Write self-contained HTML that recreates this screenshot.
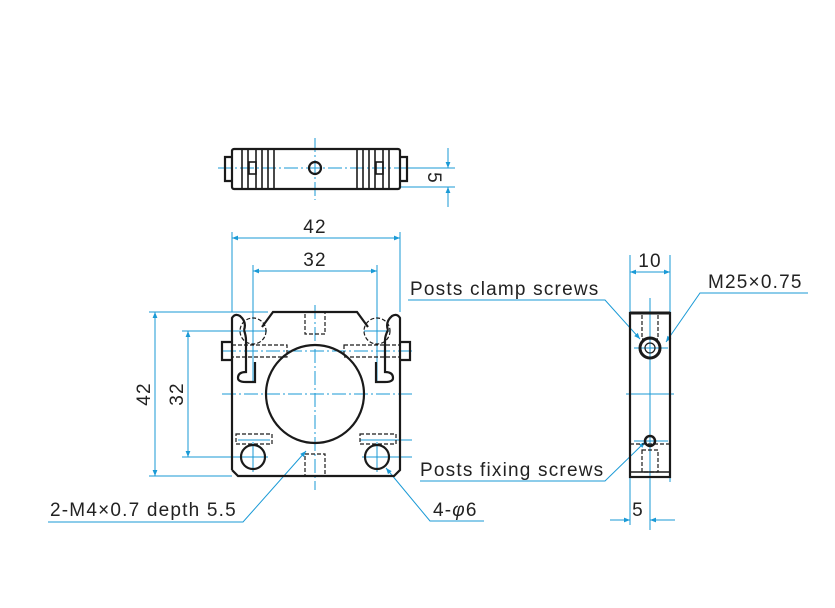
<!DOCTYPE html>
<html><head><meta charset="utf-8"><style>
html,body{margin:0;padding:0;background:#fff;}
svg{display:block;}
text{font-family:"Liberation Sans",sans-serif;fill:#222;letter-spacing:1.2px;}
</style></head><body>
<svg width="835" height="608" viewBox="0 0 835 608" xmlns="http://www.w3.org/2000/svg">
<defs>
<marker id="a" viewBox="0 0 10 10" refX="10" refY="5" markerWidth="10" markerHeight="6" orient="auto-start-reverse" markerUnits="userSpaceOnUse"><path d="M0,1 L10,5 L0,9 z" fill="#1a9ad6"/></marker>
</defs>
<g stroke="#1a9ad6" stroke-width="1" fill="none">
<line x1="315" y1="138" x2="315" y2="200" stroke-dasharray="14,3,2,3"/>
<line x1="218" y1="168" x2="412" y2="168" stroke-dasharray="14,3,2,3"/>
<line x1="400" y1="168" x2="455" y2="168"/>
<line x1="400" y1="187" x2="455" y2="187"/>
<line x1="448" y1="148" x2="448" y2="168" marker-end="url(#a)"/>
<line x1="448" y1="207" x2="448" y2="187" marker-end="url(#a)"/>
<line x1="232" y1="232" x2="232" y2="312"/><line x1="400" y1="232" x2="400" y2="312"/>
<line x1="232" y1="238" x2="400" y2="238" marker-start="url(#a)" marker-end="url(#a)"/>
<line x1="253" y1="265" x2="253" y2="345"/><line x1="377" y1="265" x2="377" y2="345"/>
<line x1="253" y1="271" x2="377" y2="271" marker-start="url(#a)" marker-end="url(#a)"/>
<line x1="149" y1="312" x2="268" y2="312"/><line x1="149" y1="476" x2="232" y2="476"/>
<line x1="155" y1="312" x2="155" y2="476" marker-start="url(#a)" marker-end="url(#a)"/>
<line x1="182" y1="331" x2="267" y2="331"/><line x1="182" y1="457" x2="265" y2="457"/>
<line x1="188" y1="331" x2="188" y2="457" marker-start="url(#a)" marker-end="url(#a)"/>
<line x1="315" y1="305" x2="315" y2="490" stroke-dasharray="14,3,2,3"/>
<line x1="222" y1="394" x2="412" y2="394" stroke-dasharray="14,3,2,3"/>
<line x1="222" y1="351" x2="412" y2="351" stroke-dasharray="14,3,2,3"/>
<line x1="253" y1="300" x2="253" y2="382"/><line x1="377" y1="300" x2="377" y2="382"/>
<line x1="240" y1="331" x2="266" y2="331"/><line x1="364" y1="331" x2="390" y2="331"/>
<line x1="253" y1="442" x2="253" y2="472"/><line x1="377" y1="442" x2="377" y2="472"/>
<line x1="238" y1="457" x2="268" y2="457"/><line x1="362" y1="457" x2="412" y2="457"/>
<line x1="238" y1="440" x2="270" y2="440"/><line x1="360" y1="440" x2="412" y2="440"/>
<polyline points="48,522 243,522 306,451" marker-end="url(#a)"/>
<polyline points="484,521 430,521 386,468" marker-end="url(#a)"/>
<line x1="630" y1="255" x2="630" y2="312"/><line x1="670" y1="255" x2="670" y2="312"/>
<line x1="630" y1="272" x2="670" y2="272" marker-start="url(#a)" marker-end="url(#a)"/>
<line x1="650" y1="298" x2="650" y2="530"/>
<line x1="626" y1="394" x2="674" y2="394"/>
<line x1="634" y1="348" x2="668" y2="348"/>
<line x1="634" y1="441" x2="668" y2="441"/>
<line x1="630" y1="477" x2="630" y2="525"/>
<line x1="670" y1="477" x2="670" y2="482"/>
<line x1="610" y1="520" x2="630" y2="520" marker-end="url(#a)"/>
<line x1="675" y1="520" x2="650" y2="520" marker-end="url(#a)"/>
<polyline points="408,300 605,300 640,339" marker-end="url(#a)"/>
<polyline points="808,293 700,293 666,342" marker-end="url(#a)"/>
<polyline points="420,481 605,481 645,442" marker-end="url(#a)"/>
</g>

<g stroke="#1a1a1a" stroke-width="2.2" fill="none">
<rect x="232" y="149" width="168" height="40" rx="2"/>
<path d="M232,157 H225 V181 H232 M400,157 H407 V181 H400"/>
<g stroke-width="1.6">
<line x1="242" y1="149" x2="242" y2="189"/><line x1="248" y1="149" x2="248" y2="189"/>
<line x1="256" y1="149" x2="256" y2="189"/><line x1="262" y1="149" x2="262" y2="189"/>
<line x1="268" y1="149" x2="268" y2="189"/><line x1="274" y1="149" x2="274" y2="189"/>
<line x1="357" y1="149" x2="357" y2="189"/><line x1="363" y1="149" x2="363" y2="189"/>
<line x1="369" y1="149" x2="369" y2="189"/><line x1="375" y1="149" x2="375" y2="189"/>
<line x1="383" y1="149" x2="383" y2="189"/><line x1="389" y1="149" x2="389" y2="189"/>
<rect x="249" y="162" width="7" height="12"/><rect x="376" y="162" width="7" height="12"/>
</g>
<circle cx="315" cy="168" r="6"/>
<path d="M262,327 L273,312 H357 L368,327"/>
<path d="M232,470 L238,476 H394 L400,470 V318 Q397,313 392,316 Q385,322 388,330 M232,470 V318 Q235,313 240,316 Q247,322 244,330"/>
<path d="M244,330 Q246,336 246,340 L246,372 Q238,372 238,378 Q238,382 246,382 L255,382 V362"/>
<path d="M388,330 Q385,336 385,340 L385,372 Q393,372 393,378 Q393,382 385,382 L376,382 V362"/>
<path d="M232,342 H222 V360 H232 M400,342 H410 V360 H400"/>
<circle cx="315" cy="394" r="49"/>
<circle cx="253" cy="457" r="12"/><circle cx="377" cy="457" r="12"/>
<g stroke-width="1.2" stroke-dasharray="4,2">
<circle cx="253" cy="331" r="13"/><circle cx="377" cy="331" r="13"/>
<rect x="305" y="312" width="20" height="22"/><rect x="305" y="454" width="20" height="22"/>
<rect x="232" y="345" width="55" height="12"/><rect x="344" y="345" width="56" height="12"/>
<rect x="236" y="434" width="36" height="10"/><rect x="360" y="434" width="36" height="10"/>
</g>
<rect x="630" y="313" width="40" height="164"/>
<line x1="630" y1="313" x2="670" y2="313" stroke-width="3"/>
<line x1="630" y1="472" x2="670" y2="472" stroke-width="1.5"/>
<circle cx="650" cy="348" r="10" stroke-width="3"/>
<circle cx="650" cy="348" r="5" stroke-width="1.2"/>
<circle cx="650" cy="441" r="5" stroke-width="2.5"/>
<g stroke-width="1.2" stroke-dasharray="4,2">
<rect x="642" y="313" width="16" height="26"/>
<rect x="642" y="450" width="16" height="22"/>
<line x1="630" y1="444" x2="670" y2="444"/>
</g>
</g>

<g font-size="19">
<text x="315" y="233" text-anchor="middle">42</text>
<text x="315" y="266" text-anchor="middle">32</text>
<text transform="translate(150,394) rotate(-90)" text-anchor="middle">42</text>
<text transform="translate(183,394) rotate(-90)" text-anchor="middle">32</text>
<text transform="translate(428,178) rotate(90)" text-anchor="middle">5</text>
<text x="650" y="267" text-anchor="middle">10</text>
<text x="638" y="516" text-anchor="middle">5</text>
<text x="410" y="295">Posts clamp screws</text>
<text x="708" y="288">M25×0.75</text>
<text x="420" y="476">Posts fixing screws</text>
<text x="50" y="516">2-M4×0.7 depth 5.5</text>
<text x="433" y="516">4-<tspan font-style="italic">φ</tspan>6</text>
</g>
</svg>
</body></html>
